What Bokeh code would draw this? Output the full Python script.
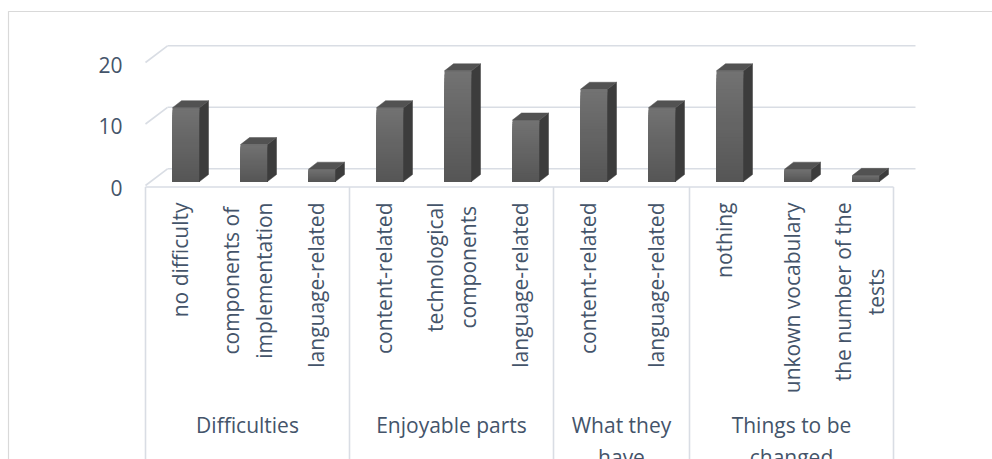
import numpy as np
from bokeh.plotting import figure
from bokeh.models import Range1d
from bokeh.core.properties import value
from bokeh.embed import file_html
from bokeh.resources import INLINE

# ---------------- data ----------------
categories = ["no difficulty", "components of\nimplementation", "language-related",
              "content-related", "technological\ncomponents", "language-related",
              "content-related", "language-related",
              "nothing", "unkown vocabulary", "the number of the\ntests"]
groups = ["Difficulties", "Enjoyable parts", "What they\nhave", "Things to be\nchanged"]
group_sizes = [3, 3, 2, 3]
counts = [12, 6, 2, 12, 18, 10, 15, 12, 18, 2, 1]
y_ticks = [0, 10, 20]
y_tick_labels = ["0", "10", "20"]

# ---------------- layout (pixels) ----------------
W, H = 992, 459
CAT_PX = 68.0      # width of one category on the axis
X0_PX = 145.0      # left end of category axis
UNIT_PX = 6.15     # pixels per value unit
Y0_PX = 185.0      # front zero line


def ux(px):
    return px / CAT_PX


def uy(px):
    return px / UNIT_PX


FONT = value("Open Sans")
TXT = "#44546A"
GRID = "#D9DDE4"
FS = "21px"

p = figure(width=W, height=H, output_backend="svg", toolbar_location=None,
           x_axis_location=None, y_axis_location=None, min_border=0,
           x_range=Range1d(-ux(X0_PX), ux(W - X0_PX)),
           y_range=Range1d(-uy(H - Y0_PX), uy(Y0_PX)))
p.outline_line_color = None
p.grid.grid_line_color = None
p.background_fill_color = "white"
p.border_fill_color = "white"

n = len(counts)
x_lo, x_hi = p.x_range.start, p.x_range.end
y_lo, y_hi = p.y_range.start, p.y_range.end

# chart border (left + top)
bx = x_lo + ux(8)
by = y_hi - uy(11)
p.line([bx, bx, x_hi], [y_lo, by, by], line_color="#D9D9D9", line_width=1.2)

# walls
WDX, WDY = ux(22), uy(16.7)
p.segment(x0=[WDX] * len(y_ticks), y0=[t + WDY for t in y_ticks],
          x1=[n + WDX] * len(y_ticks), y1=[t + WDY for t in y_ticks],
          line_color=GRID, line_width=1.6)
p.segment(x0=[0] * len(y_ticks), y0=y_ticks,
          x1=[WDX] * len(y_ticks), y1=[t + WDY for t in y_ticks],
          line_color=GRID, line_width=1.6)

# category axis
bounds = np.concatenate([[0], np.cumsum(group_sizes)])
p.segment(x0=[0], y0=[-uy(1.5)], x1=[n], y1=[-uy(1.5)], line_color=GRID, line_width=1.6)
p.segment(x0=bounds, y0=[-uy(1.5)] * len(bounds), x1=bounds, y1=[y_lo] * len(bounds),
          line_color=GRID, line_width=1.6)

# bars (pseudo-3D)
vals = np.array(counts, dtype=float)
xc = np.arange(n) + 0.5
BW = ux(27)
BX0, BY0 = ux(6.5), uy(4)
DDX, DDY = ux(9), uy(7)
left = xc - BW / 2 + BX0
right = left + BW
bottom = np.full(n, BY0)
top = vals + BY0

# front face with vertical gradient (lighter at top)
NSTRIPE = 30
c_top = np.array([0x72, 0x72, 0x72])
c_bot = np.array([0x55, 0x55, 0x55])
for k in range(NSTRIPE):
    frac = (NSTRIPE - k) / NSTRIPE
    col = c_bot + (c_top - c_bot) * frac
    hexc = "#%02x%02x%02x" % tuple(int(round(c)) for c in col)
    p.quad(left=left, right=right, bottom=bottom, top=bottom + (top - bottom) * frac,
           fill_color=hexc, line_color=None)

side_xs = [[r, r + DDX, r + DDX, r] for r in right]
side_ys = [[b, b + DDY, t + DDY, t] for b, t in zip(bottom, top)]
p.patches(side_xs, side_ys, fill_color="#3c3c3c", line_color="#3c3c3c", line_width=0.5)

top_xs = [[l, l + DDX, r + DDX, r] for l, r in zip(left, right)]
top_ys = [[t, t + DDY, t + DDY, t] for t in top]
p.patches(top_xs, top_ys, fill_color="#525252", line_color="#525252", line_width=0.5)

# y tick labels
p.text(x=[-ux(23)] * len(y_ticks), y=[t - uy(2) for t in y_ticks], text=y_tick_labels,
       text_align="right", text_baseline="middle", text_font=FONT,
       text_font_size=FS, text_color=TXT)

# category labels (rotated)
p.text(x=xc, y=[-uy(202 - Y0_PX)] * n, text=categories, angle=np.pi / 2,
       anchor="center_right", text_align="center", text_font=FONT,
       text_font_size=FS, text_color=TXT, text_line_height=1.2)

# group labels
gx = (bounds[:-1] + bounds[1:]) / 2
p.text(x=gx, y=[-uy(410 - Y0_PX)] * len(groups), text=groups,
       anchor="top_center", text_align="center", text_font=FONT,
       text_font_size=FS, text_color=TXT, text_line_height=1.15)

open("out.html", "w").write(file_html(p, INLINE))
